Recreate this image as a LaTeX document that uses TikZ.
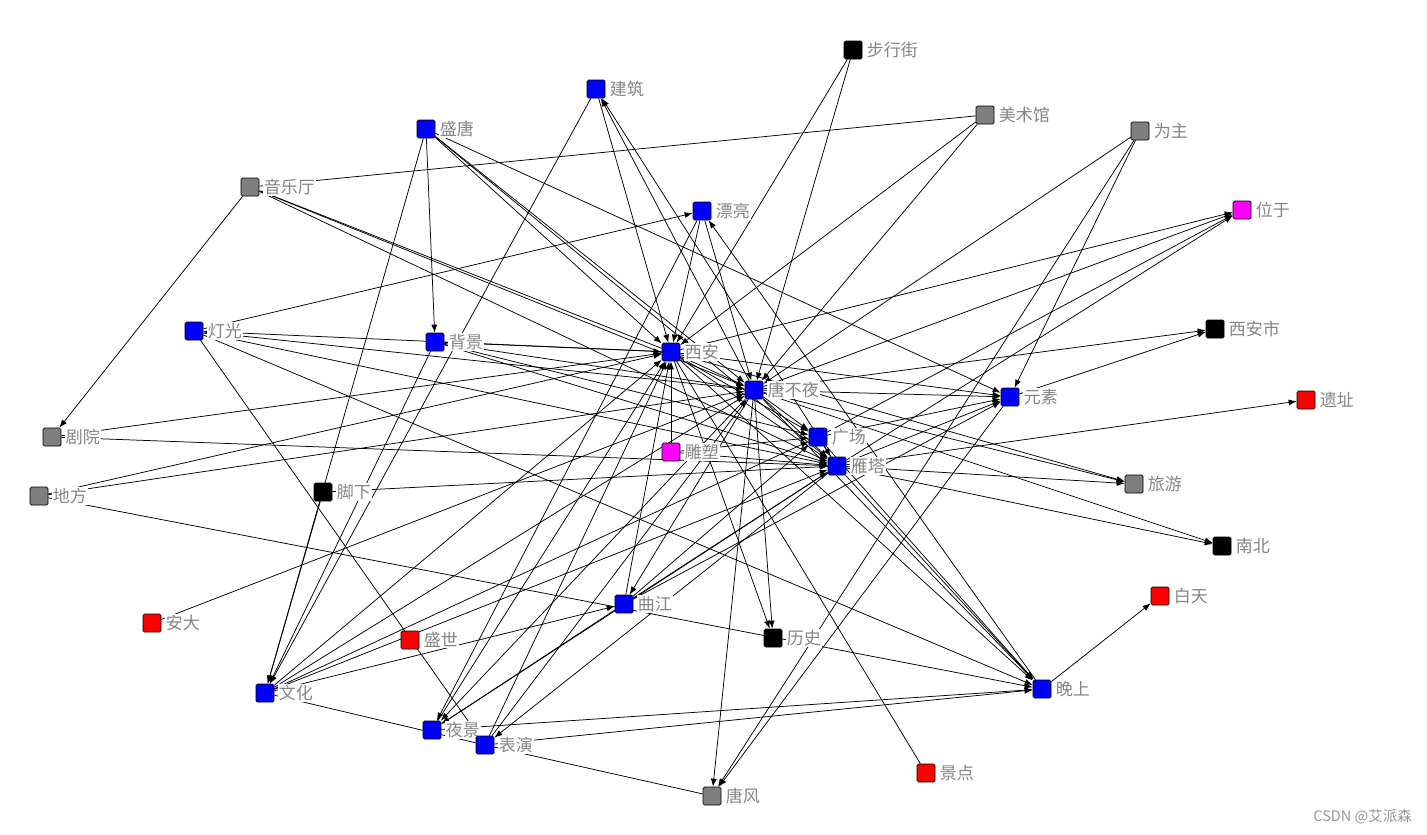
\documentclass[tikz,border=0pt]{standalone}
\usepackage{fontspec}
\setmainfont{Noto Sans CJK SC}
\usetikzlibrary{arrows.meta}
\pgfdeclarelayer{bg}
\pgfsetlayers{bg,main}
\definecolor{lblgray}{HTML}{858585}
\definecolor{ndgray}{HTML}{7F7F7F}
\definecolor{ndblue}{HTML}{0000FF}
\definecolor{ndred}{HTML}{FF0000}
\definecolor{ndmag}{HTML}{FF00FF}
\newcommand\gnode[5]{%
  \node[sq,fill=#4] (#1) at (#2,#3) {};
  \node[lbl] (#1l) at ([xshift=3.5pt]#1.east) {#5};}
\newcommand\ea[2]{\draw[arr] (#1) -- (#2);}
\newcommand\eb[2]{\draw[plainline] (#1) -- (#2);}
\begin{document}
\begin{tikzpicture}[x=1pt,y=-1pt,
  sq/.style={draw=black, line width=0.7pt, rounded corners=1.5pt, minimum size=18pt, inner sep=0pt},
  lbl/.style={fill=white, text=lblgray, font=\fontsize{17}{17}\selectfont, inner sep=0.8pt, anchor=west},
  arr/.style={-{Latex[length=8pt,width=6pt]}, line width=0.75pt},
  plainline/.style={line width=0.75pt}]
\useasboundingbox (0,0) rectangle (1427,835);
\gnode{bxj}{853}{50}{black}{步行街}
\gnode{jz}{596}{89}{ndblue}{建筑}
\gnode{msg}{985}{115}{ndgray}{美术馆}
\gnode{st}{426}{129}{ndblue}{盛唐}
\gnode{wz}{1140}{131}{ndgray}{为主}
\gnode{ylt}{250}{187}{ndgray}{音乐厅}
\gnode{pl}{702}{211}{ndblue}{漂亮}
\gnode{wy}{1242}{210}{ndmag}{位于}
\gnode{dg}{194}{331}{ndblue}{灯光}
\gnode{xas}{1215}{329}{black}{西安市}
\gnode{bj}{435}{342}{ndblue}{背景}
\gnode{xa}{671}{352}{ndblue}{西安}
\gnode{tby}{754}{390}{ndblue}{唐不夜}
\gnode{ys}{1010}{397}{ndblue}{元素}
\gnode{yz}{1306}{400}{ndred}{遗址}
\gnode{jy}{52}{437}{ndgray}{剧院}
\gnode{gc}{818}{437}{ndblue}{广场}
\gnode{ds}{671}{452}{ndmag}{雕塑}
\gnode{yt}{837}{466}{ndblue}{雁塔}
\gnode{ly}{1134}{484}{ndgray}{旅游}
\gnode{df}{39}{496}{ndgray}{地方}
\gnode{jx}{323}{492}{black}{脚下}
\gnode{nb}{1222}{546}{black}{南北}
\gnode{bt}{1160}{596}{ndred}{白天}
\gnode{qj}{624}{604}{ndblue}{曲江}
\gnode{ad}{152}{623}{ndred}{安大}
\gnode{ss}{410}{640}{ndred}{盛世}
\gnode{ls}{773}{638}{black}{历史}
\gnode{ws}{1042}{689}{ndblue}{晚上}
\gnode{wh}{265}{693}{ndblue}{文化}
\gnode{yj}{432}{730}{ndblue}{夜景}
\gnode{by}{485}{745}{ndblue}{表演}
\gnode{jd}{926}{773}{ndred}{景点}
\gnode{tf}{712}{796}{ndgray}{唐风}
\node[text=lblgray!85, font=\fontsize{14.5}{15}\selectfont, anchor=east, inner sep=0pt] (wm) at (1412,817) {CSDN @艾派森};
\begin{pgfonlayer}{bg}
\ea{bxj}{xa}\ea{bxj}{tby}
\ea{jz}{xa}\ea{tby}{jz}\ea{yt}{jz}\ea{jz}{wh}
\ea{msg}{xa}\ea{msg}{tby}\eb{msg}{ylt}
\ea{st}{bj}\ea{st}{wh}\ea{st}{xa}\ea{st}{tby}\ea{st}{yt}\ea{st}{ys}
\ea{wz}{tby}\ea{wz}{ys}\ea{wz}{tf}
\ea{ylt}{jy}\ea{xa}{ylt}\ea{ylt}{tby}\ea{ylt}{yt}
\ea{dg}{pl}\ea{pl}{xa}\ea{pl}{tby}\ea{ws}{pl}\ea{pl}{yj}
\ea{xa}{dg}\ea{dg}{tby}\ea{dg}{yt}\ea{dg}{ws}\ea{dg}{by}
\ea{bj}{xa}\ea{bj}{tby}\ea{bj}{yt}\ea{bj}{gc}\ea{bj}{wh}
\ea{jy}{xa}\ea{jy}{yt}
\ea{df}{xa}\ea{df}{tby}\ea{df}{ws}
\ea{jx}{yt}\ea{jx}{wh}
\ea{ad}{tby}
\ea{xa}{wy}\ea{tby}{wy}\ea{gc}{wy}\ea{yt}{wy}
\ea{tby}{xas}\ea{ys}{xas}
\ea{yt}{yz}
\ea{xa}{ly}\ea{tby}{ly}\ea{yt}{ly}
\ea{tby}{nb}\ea{yt}{nb}
\ea{ws}{bt}
\ea{xa}{ws}\ea{tby}{ws}\ea{yt}{ws}\ea{gc}{ws}\ea{yj}{ws}\ea{by}{ws}
\ea{xa}{ls}\ea{tby}{ls}
\ea{tby}{tf}\ea{ys}{tf}\eb{by}{tf}
\ea{qj}{xa}\ea{qj}{yt}\ea{qj}{ys}\ea{qj}{yj}\ea{tby}{qj}\ea{qj}{gc}
\ea{wh}{xa}\ea{wh}{tby}\ea{wh}{gc}\ea{wh}{yt}\ea{wh}{qj}\eb{wh}{by}
\ea{yj}{xa}\ea{tby}{yj}\ea{yt}{yj}
\ea{by}{xa}\ea{by}{tby}\ea{yt}{by}
\ea{ds}{xa}\ea{ds}{gc}\ea{ds}{yt}
\ea{xa}{tby}\ea{tby}{gc}\ea{tby}{yt}\ea{gc}{yt}\ea{xa}{yt}\ea{xa}{gc}
\ea{tby}{ys}\ea{xa}{ys}\ea{yt}{ys}\ea{gc}{ys}
\eb{xa}{jd}
\end{pgfonlayer}
\end{tikzpicture}
\end{document}
